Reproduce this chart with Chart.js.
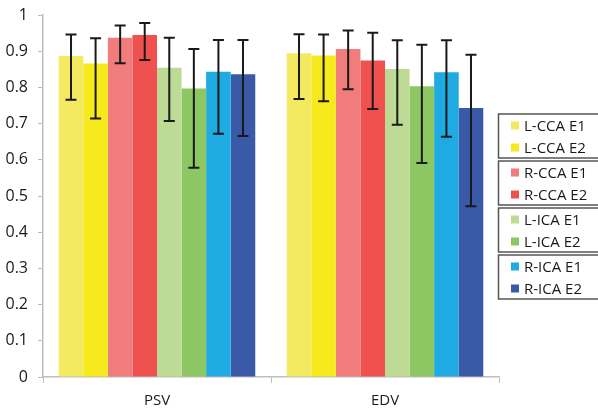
<!DOCTYPE html>
<html>
<head>
<meta charset="utf-8">
<script src="https://cdn.jsdelivr.net/npm/chart.js@4/dist/chart.umd.min.js"></script>
<style>
html,body{margin:0;padding:0;background:#fff;}
#wrap{width:598px;height:409px;position:relative;}
</style>
</head>
<body>
<div id="wrap"><canvas id="c" width="598" height="409"></canvas></div>
<script>
const categories = ["PSV", "EDV"];
const seriesNames = ["L-CCA E1", "L-CCA E2", "R-CCA E1", "R-CCA E2", "L-ICA E1", "L-ICA E2", "R-ICA E1", "R-ICA E2"];
const seriesColors = ["#F4EA62", "#F6EA1C", "#F07D7B", "#EE5150", "#BDDB94", "#8DC764", "#1FAAE2", "#3A5AA7"];
// values per series: [PSV, EDV]
const lccaE1 = [0.887, 0.894];
const lccaE2 = [0.866, 0.888];
const rccaE1 = [0.937, 0.906];
const rccaE2 = [0.945, 0.874];
const licaE1 = [0.854, 0.851];
const licaE2 = [0.797, 0.803];
const ricaE1 = [0.843, 0.842];
const ricaE2 = [0.836, 0.743];
// error bar upper / lower ends per series: [PSV, EDV]
const lccaE1Hi = [0.946, 0.947], lccaE1Lo = [0.766, 0.768];
const lccaE2Hi = [0.936, 0.946], lccaE2Lo = [0.714, 0.762];
const rccaE1Hi = [0.971, 0.957], rccaE1Lo = [0.867, 0.795];
const rccaE2Hi = [0.978, 0.951], rccaE2Lo = [0.876, 0.740];
const licaE1Hi = [0.937, 0.930], licaE1Lo = [0.707, 0.697];
const licaE2Hi = [0.906, 0.918], licaE2Lo = [0.578, 0.591];
const ricaE1Hi = [0.931, 0.930], ricaE1Lo = [0.672, 0.664];
const ricaE2Hi = [0.931, 0.890], ricaE2Lo = [0.666, 0.472];
const yTicks = [0, 0.1, 0.2, 0.3, 0.4, 0.5, 0.6, 0.7, 0.8, 0.9, 1];

const values = [lccaE1, lccaE2, rccaE1, rccaE2, licaE1, licaE2, ricaE1, ricaE2];
const highs = [lccaE1Hi, lccaE2Hi, rccaE1Hi, rccaE2Hi, licaE1Hi, licaE2Hi, ricaE1Hi, ricaE2Hi];
const lows = [lccaE1Lo, lccaE2Lo, rccaE1Lo, rccaE2Lo, licaE1Lo, licaE2Lo, ricaE1Lo, ricaE2Lo];

const FONT = "'Open Sans', 'DejaVu Sans', sans-serif";

const errorBars = {
  id: 'errorBars',
  afterDatasetsDraw(chart) {
    const ctx = chart.ctx, y = chart.scales.y;
    ctx.save();
    ctx.strokeStyle = '#1a1a1a';
    ctx.lineWidth = 2;
    chart.data.datasets.forEach((ds, i) => {
      const meta = chart.getDatasetMeta(i);
      meta.data.forEach((bar, j) => {
        const x = bar.x;
        const yh = y.getPixelForValue(highs[i][j]);
        const yl = y.getPixelForValue(lows[i][j]);
        ctx.beginPath();
        ctx.moveTo(x, yh); ctx.lineTo(x, yl);
        ctx.moveTo(x - 5.5, yh); ctx.lineTo(x + 5.5, yh);
        ctx.moveTo(x - 5.5, yl); ctx.lineTo(x + 5.5, yl);
        ctx.stroke();
      });
    });
    ctx.restore();
  }
};

const groupedLegend = {
  id: 'groupedLegend',
  afterDraw(chart) {
    const ctx = chart.ctx;
    ctx.save();
    const left = 498.5;
    for (let g = 0; g < 4; g++) {
      const top = 114 + 47 * g;
      ctx.strokeStyle = '#555';
      ctx.lineWidth = 1.5;
      ctx.strokeRect(left, top, 110, 44);
      for (let k = 0; k < 2; k++) {
        const idx = g * 2 + k;
        const cy = top + 11.5 + 22 * k;
        ctx.fillStyle = seriesColors[idx];
        ctx.fillRect(511, cy - 4, 8, 8);
        ctx.fillStyle = '#1a1a1a';
        ctx.font = '15px ' + FONT;
        ctx.textBaseline = 'middle';
        ctx.textAlign = 'left';
        ctx.fillText(chart.data.datasets[idx].label, 524, cy + 1);
      }
    }
    ctx.restore();
  }
};

new Chart(document.getElementById('c'), {
  type: 'bar',
  data: {
    labels: categories,
    datasets: seriesNames.map((n, i) => ({
      label: n,
      data: values[i],
      backgroundColor: seriesColors[i],
      borderWidth: 0,
      categoryPercentage: 0.862,
      barPercentage: 1
    }))
  },
  options: {
    responsive: false,
    animation: false,
    layout: { padding: { top: 15, right: 99, left: 0, bottom: 0 } },
    plugins: { legend: { display: false }, tooltip: { enabled: false } },
    scales: {
      x: {
        grid: { display: true, drawOnChartArea: false, offset: true, color: '#bdbdbd', tickLength: 6 },
        border: { color: '#bdbdbd', width: 1.5 },
        ticks: { color: '#1a1a1a', font: { family: FONT, size: 15 }, padding: 9 },
        afterFit(s) { s.height = 32; s.paddingLeft = 0; s.paddingRight = 0; }
      },
      y: {
        min: 0, max: 1,
        afterBuildTicks(s) { s.ticks = yTicks.map(v => ({ value: v })); },
        grid: { display: true, drawOnChartArea: false, color: '#bdbdbd', tickLength: 5 },
        border: { color: '#bdbdbd', width: 1.5 },
        ticks: { color: '#1a1a1a', font: { family: FONT, size: 16 }, padding: 10,
          callback: v => String(Math.round(v * 10) / 10) },
        afterFit(s) { s.width = 43; s.paddingTop = 0; s.paddingBottom = 0; }
      }
    }
  },
  plugins: [errorBars, groupedLegend]
});
</script>
</body>
</html>
